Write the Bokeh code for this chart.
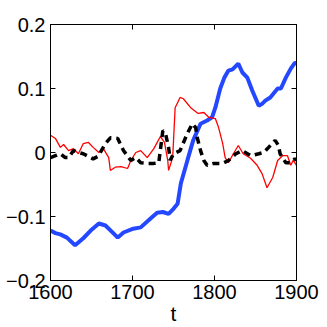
from bokeh.plotting import figure
from bokeh.models import Range1d, LinearAxis, FixedTicker, CustomJSTickFormatter
from bokeh.embed import file_html
from bokeh.resources import INLINE

# Blue series
blue_t = [1600, 1606, 1612, 1620, 1630, 1640, 1649, 1659, 1667, 1675, 1682, 1689, 1701,
          1710, 1722, 1730, 1737, 1744, 1750, 1755, 1759, 1763, 1767, 1774, 1783, 1791,
          1797, 1801, 1807, 1812, 1817, 1822, 1829, 1834, 1840, 1846, 1854, 1858, 1862,
          1868, 1877, 1881, 1887, 1893, 1898, 1900]
blue_y = [-0.122, -0.126, -0.128, -0.133, -0.145, -0.134, -0.122, -0.111, -0.114, -0.124,
          -0.133, -0.125, -0.119, -0.117, -0.103, -0.094, -0.093, -0.096, -0.088, -0.08,
          -0.048, -0.03, -0.012, 0.019, 0.045, 0.05, 0.055, 0.07, 0.10, 0.117, 0.128, 0.13,
          0.139, 0.125, 0.117, 0.097, 0.073, 0.076, 0.081, 0.086, 0.10, 0.10, 0.117, 0.131,
          0.14, 0.14]

# Red series
red_t = [1600, 1606, 1612, 1616, 1622, 1628, 1634, 1640, 1646, 1652, 1659, 1665, 1671,
         1673, 1679, 1686, 1694, 1698, 1704, 1710, 1718, 1726, 1734, 1739, 1743, 1744,
         1749, 1752, 1758, 1762, 1771, 1780, 1787, 1793, 1801, 1805, 1810, 1813, 1817,
         1823, 1829, 1835, 1844, 1852, 1858, 1864, 1871, 1877, 1883, 1889, 1893, 1896, 1900]
red_y = [0.027, 0.022, 0.008, 0.0125, 0.003, 0.006, -0.002, 0.014, 0.016, 0.008, 0.0,
         0.005, -0.008, -0.028, -0.023, -0.022, -0.025, -0.0125, 0.0, 0.003, -0.008, 0.006,
         0.025, 0.016, -0.0125, -0.028, -0.008, 0.07, 0.086, 0.084, 0.07, 0.061, 0.0625,
         0.055, 0.053, 0.039, 0.014, -0.008, -0.016, -0.002, 0.011, -0.002, -0.009, -0.02,
         -0.033, -0.055, -0.039, -0.0125, -0.005, -0.005, -0.02, -0.012, -0.02]

# Black dashed series
black_t = [1600, 1606, 1612, 1618, 1622, 1628, 1634, 1640, 1646, 1652, 1658, 1667, 1673,
           1682, 1689, 1698, 1704, 1710, 1718, 1726, 1732, 1737, 1740, 1744, 1746, 1750,
           1758, 1767, 1773, 1777, 1779, 1783, 1787, 1791, 1799, 1810, 1817, 1826, 1834,
           1844, 1854, 1860, 1866, 1874, 1878, 1880, 1887, 1893, 1898, 1900]
black_y = [-0.008, -0.005, -0.002, -0.008, -0.008, 0.003, 0.0, -0.002, -0.006, -0.01,
           -0.006, 0.014, 0.023, 0.022, 0.003, -0.0125, -0.008, -0.016, -0.017, -0.017,
           -0.016, 0.034, 0.031, 0.008, -0.012, -0.002, 0.003, 0.03, 0.045, 0.039, 0.023,
           0.003, -0.0125, -0.02, -0.017, -0.017, -0.0125, -0.002, 0.003, -0.005, -0.002,
           0.0, 0.008, 0.019, 0.011, -0.002, -0.016, -0.016, -0.01, -0.012]

x_ticks = [1600, 1700, 1800, 1900]
y_ticks = [-0.2, -0.1, 0, 0.1, 0.2]

FONT = "Liberation Sans"

p = figure(width=327, height=327, output_backend="svg", toolbar_location=None,
           x_range=Range1d(1600, 1900), y_range=Range1d(-0.2, 0.2),
           min_border_left=50, min_border_right=31, min_border_top=24, min_border_bottom=47)
p.background_fill_color = "white"
p.border_fill_color = "white"
p.outline_line_color = "black"
p.outline_line_width = 1
p.grid.visible = False

p.line(blue_t, blue_y, line_color="#2448ff", line_width=4)
p.line(red_t, red_y, line_color="#ff0000", line_width=1.3)
p.line(black_t, black_y, line_color="black", line_width=3.5, line_dash="7 5")

fmt = CustomJSTickFormatter(code="""
if (Math.abs(tick) < 1e-9) return '0';
var s = Math.abs(tick).toFixed(1);
return (tick < 0 ? '\u2212' : '') + s;
""")
blank = CustomJSTickFormatter(code="return '';")

def style(ax):
    ax.major_tick_in = 5
    ax.major_tick_out = 0
    ax.minor_tick_in = 0
    ax.minor_tick_out = 0
    ax.axis_line_color = "black"
    ax.major_tick_line_color = "black"
    ax.major_label_text_font = FONT
    ax.major_label_text_font_size = "20px"
    ax.major_label_text_color = "black"

xa = p.xaxis[0]
xa.ticker = FixedTicker(ticks=x_ticks)
style(xa)
xa.major_label_standoff = 4
xa.axis_label = "t"
xa.axis_label_text_font = FONT
xa.axis_label_text_font_size = "21px"
xa.axis_label_text_font_style = "normal"
xa.axis_label_text_color = "black"
xa.axis_label_standoff = 0

ya = p.yaxis[0]
ya.ticker = FixedTicker(ticks=y_ticks)
ya.formatter = fmt
style(ya)
ya.major_label_standoff = 5

top = LinearAxis(ticker=FixedTicker(ticks=x_ticks), formatter=blank)
style(top)
top.major_label_standoff = 0
p.add_layout(top, "above")
right = LinearAxis(ticker=FixedTicker(ticks=y_ticks), formatter=blank)
style(right)
right.major_label_standoff = 0
p.add_layout(right, "right")

open("out.html", "w").write(file_html(p, INLINE))
